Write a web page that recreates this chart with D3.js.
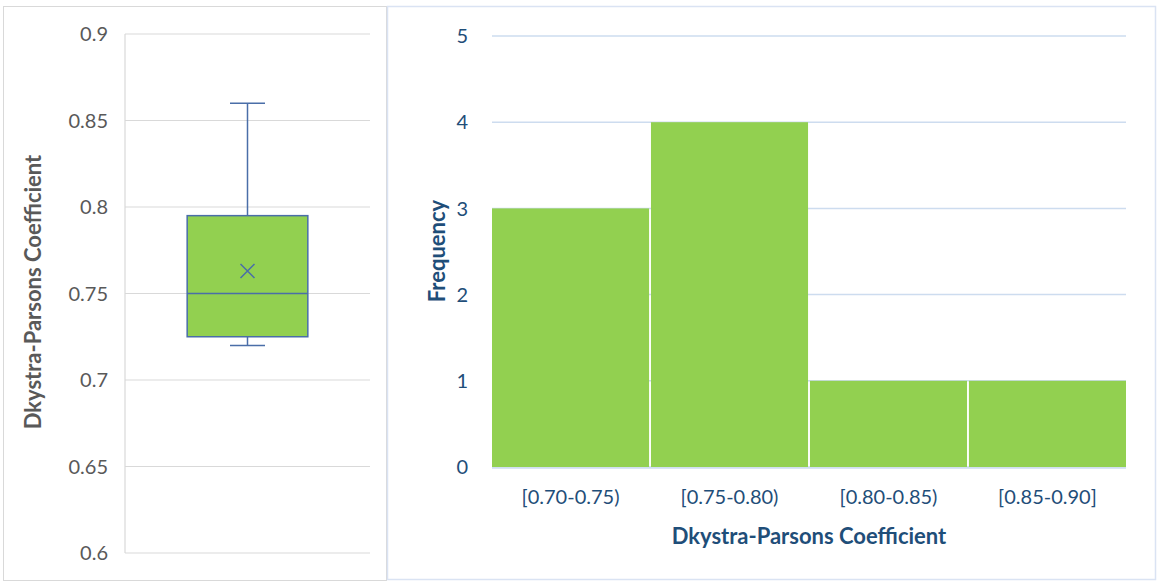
<!DOCTYPE html>
<html><head><meta charset="utf-8">
<script src="https://cdn.jsdelivr.net/npm/d3@7"></script>
<style>body{margin:0;background:#fff;}svg{display:block;font-family:Lato,"Open Sans",sans-serif;}</style>
</head><body>
<svg id="c" width="1160" height="582"></svg>
<script>
// Box plot data
const boxStats = {min:0.72, q1:0.725, median:0.75, q3:0.795, max:0.86, mean:0.763};
const boxTicks = [0.6,0.65,0.7,0.75,0.8,0.85,0.9];
const boxTickLabels = ["0.6","0.65","0.7","0.75","0.8","0.85","0.9"];
// Histogram data
const bins = ["[0.70-0.75)","[0.75-0.80)","[0.80-0.85)","[0.85-0.90]"];
const freq = [3,4,1,1];
const freqTicks = [0,1,2,3,4,5];

const svg = d3.select("#c");

// panel borders
svg.append("rect").attr("x",3.5).attr("y",6.5).attr("width",383).attr("height",574)
  .attr("fill","none").attr("stroke","#d9d9d9");
svg.append("rect").attr("x",387.5).attr("y",6.5).attr("width",768).attr("height",573)
  .attr("fill","none").attr("stroke","#dae3f3").attr("stroke-width",1.5);

// ---- Left: box plot ----
const yL = d3.scaleLinear().domain([0.6,0.9]).range([553,34]);
const xL0 = 125, xL1 = 370;
const gL = svg.append("g");
gL.selectAll("line.grid").data(boxTicks).join("line")
  .attr("x1",xL0).attr("x2",xL1).attr("y1",d=>yL(d)).attr("y2",d=>yL(d))
  .attr("stroke","#d9d9d9").attr("stroke-width",1.2);
gL.append("line").attr("x1",xL0).attr("x2",xL0).attr("y1",yL(0.9)).attr("y2",yL(0.6))
  .attr("stroke","#d9d9d9").attr("stroke-width",1.2);
gL.selectAll("text.tick").data(boxTicks).join("text")
  .attr("x",108).attr("y",d=>yL(d)).attr("dy","0.36em").attr("text-anchor","end")
  .attr("font-size",20).attr("fill","#595959").text((d,i)=>boxTickLabels[i]);
gL.append("text").attr("transform","translate(33,292) rotate(-90)").attr("dy","0.36em").attr("text-anchor","middle")
  .attr("font-size",22).attr("font-weight","bold").attr("fill","#595959")
  .text("Dkystra-Parsons Coefficient");

const xB = d3.scaleBand().domain(["box"]).range([xL0,xL1]).padding(0.34);
const bx = xB("box"), bw = xB.bandwidth(), cx = bx + bw/2;
const stroke = "#4a6ea8";
// whiskers
gL.append("line").attr("x1",cx).attr("x2",cx).attr("y1",yL(boxStats.max)).attr("y2",yL(boxStats.q3)).attr("stroke",stroke).attr("stroke-width",1.5);
gL.append("line").attr("x1",cx).attr("x2",cx).attr("y1",yL(boxStats.q1)).attr("y2",yL(boxStats.min)).attr("stroke",stroke).attr("stroke-width",1.5);
[boxStats.max, boxStats.min].forEach(v=>{
  gL.append("line").attr("x1",cx-17.5).attr("x2",cx+17.5).attr("y1",yL(v)).attr("y2",yL(v)).attr("stroke",stroke).attr("stroke-width",1.5);
});
gL.append("rect").attr("x",bx).attr("width",bw).attr("y",yL(boxStats.q3)).attr("height",yL(boxStats.q1)-yL(boxStats.q3))
  .attr("fill","#92d050").attr("stroke",stroke).attr("stroke-width",1.5);
gL.append("line").attr("x1",bx).attr("x2",bx+bw).attr("y1",yL(boxStats.median)).attr("y2",yL(boxStats.median)).attr("stroke",stroke).attr("stroke-width",1.5);
const my = yL(boxStats.mean), s=7;
gL.append("path").attr("d",`M${cx-s},${my-s}L${cx+s},${my+s}M${cx-s},${my+s}L${cx+s},${my-s}`).attr("stroke",stroke).attr("stroke-width",1.5);

// ---- Right: histogram ----
const xR = d3.scaleBand().domain(bins).range([492,1126]).paddingInner(0.012).paddingOuter(0);
const yR = d3.scaleLinear().domain([0,5]).range([467,36]);
const gR = svg.append("g");
gR.selectAll("line.grid").data(freqTicks).join("line")
  .attr("x1",492).attr("x2",1126).attr("y1",d=>yR(d)).attr("y2",d=>yR(d))
  .attr("stroke","#cddcef").attr("stroke-width",1.5);
gR.selectAll("rect.bar").data(freq).join("rect")
  .attr("x",(d,i)=>xR(bins[i])).attr("width",xR.bandwidth())
  .attr("y",d=>yR(d)).attr("height",d=>yR(0)-yR(d)).attr("fill","#92d050");
gR.append("line").attr("x1",492).attr("x2",1126).attr("y1",yR(0)+1).attr("y2",yR(0)+1)
  .attr("stroke","#cddcef").attr("stroke-width",1.5);
gR.selectAll("text.ytick").data(freqTicks).join("text")
  .attr("x",468).attr("y",d=>yR(d)).attr("dy","0.36em").attr("text-anchor","end")
  .attr("font-size",20).attr("fill","#1f4e79").text(d=>d);
gR.selectAll("text.xtick").data(bins).join("text")
  .attr("x",d=>xR(d)+xR.bandwidth()/2).attr("y",497).attr("dy","0.36em").attr("text-anchor","middle")
  .attr("font-size",20).attr("fill","#1f4e79").text(d=>d);
gR.append("text").attr("x",809).attr("y",536).attr("dy","0.36em").attr("text-anchor","middle")
  .attr("font-size",22).attr("font-weight","bold").attr("fill","#1f4e79").text("Dkystra-Parsons Coefficient");
gR.append("text").attr("transform","translate(437,251) rotate(-90)").attr("dy","0.36em").attr("text-anchor","middle")
  .attr("font-size",22).attr("font-weight","bold").attr("fill","#1f4e79").text("Frequency");
</script>
</body></html>
